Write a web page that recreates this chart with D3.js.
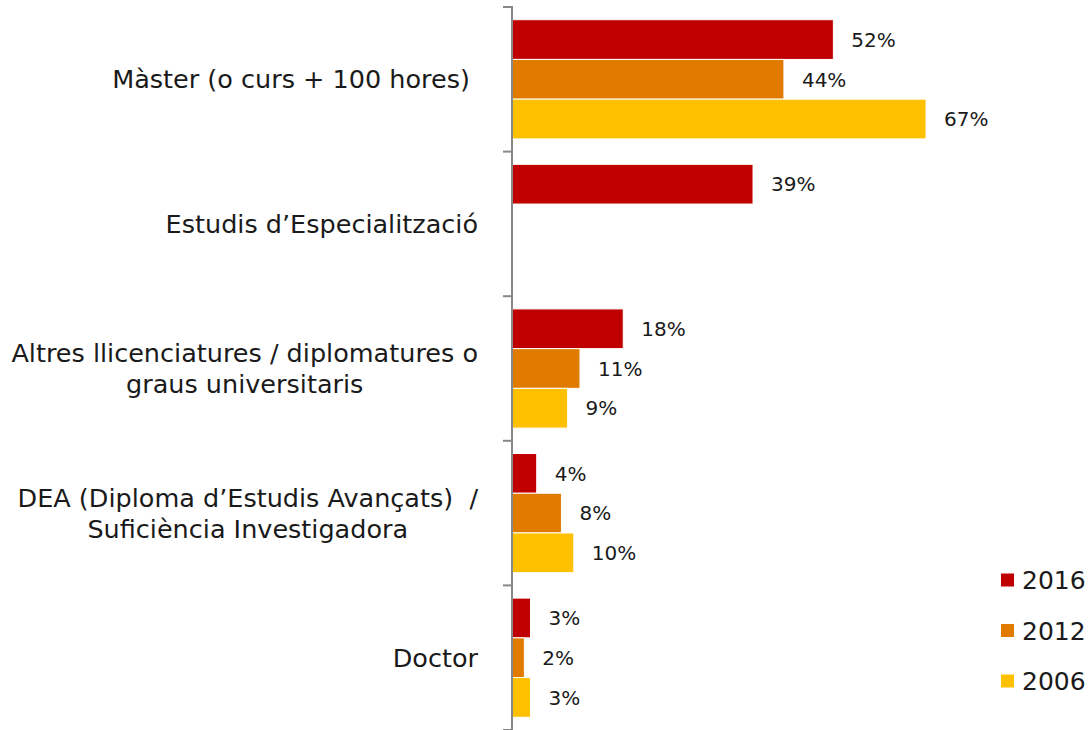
<!DOCTYPE html>
<html><head><meta charset="utf-8">
<script src="https://cdn.jsdelivr.net/npm/d3@7"></script>
<style>
html,body{margin:0;padding:0;background:#fff;}
svg{display:block;}
text{font-family:"DejaVu Sans",sans-serif;fill:#1a1a1a;}
.cat{white-space:pre;}
</style></head>
<body><svg id="chart" width="1091" height="730"></svg>
<script>
const categories = [
  ["Màster (o curs + 100 hores) "],
  ["Estudis d\u2019Especialització"],
  ["Altres llicenciatures / diplomatures o", "graus universitaris"],
  ["DEA (Diploma d\u2019Estudis Avançats)  /", "Suficiència Investigadora"],
  ["Doctor"]
];
const series = ["2016", "2012", "2006"];
const values2016 = [52, 39, 18, 4, 3];
const values2012 = [44, null, 11, 8, 2];
const values2006 = [67, null, 9, 10, 3];
const colors = ["#C00000", "#E07B00", "#FFC000"];

const seriesValues = [values2016, values2012, values2006];
const svg = d3.select("#chart");
const catKeys = categories.map((c, i) => "c" + i);

const y = d3.scaleBand().domain(catKeys).range([7, 730]).paddingInner(0).paddingOuter(0);
const ySub = d3.scaleBand().domain(series).range([0, y.bandwidth()]).paddingInner(0).paddingOuter(0.32);
const x = d3.scaleLinear().domain([0, 70]).range([512, 512 + 70 * 6.18]);

// bars
catKeys.forEach((k, ci) => {
  const g = svg.append("g").attr("transform", `translate(0,${y(k)})`);
  series.forEach((s, si) => {
    const v = seriesValues[si][ci];
    if (v == null) return;
    g.append("rect")
      .attr("x", x(0))
      .attr("y", ySub(s))
      .attr("width", x(v) - x(0))
      .attr("height", ySub.bandwidth())
      .attr("fill", colors[si])
      .attr("stroke", "#fff")
      .attr("stroke-width", 1);
    g.append("text")
      .attr("x", x(v) + 18)
      .attr("y", ySub(s) + ySub.bandwidth() / 2)
      .attr("dy", "0.36em")
      .attr("font-size", 20)
      .text(v + "%");
  });
});

// axis
const axG = svg.append("g").attr("transform", "translate(512,0)");
const bounds = catKeys.map(k => y(k)).concat([y(catKeys[catKeys.length - 1]) + y.bandwidth()]);
axG.selectAll("line.tk").data(bounds).enter().append("line")
  .attr("x1", -9).attr("x2", 0).attr("y1", d => d).attr("y2", d => d)
  .attr("stroke", "#888").attr("stroke-width", 2);
axG.append("line").attr("x1", 0).attr("x2", 0).attr("y1", 6).attr("y2", 730)
  .attr("stroke", "#888").attr("stroke-width", 2);

// category labels
const labelRight = 478;
const lineGap = 31;
categories.forEach((lines, ci) => {
  const cy = y(catKeys[ci]) + y.bandwidth() / 2;
  const t = svg.append("g");
  const texts = lines.map((ln, li) => t.append("text")
    .attr("class", "cat")
    .attr("font-size", 25.5)
    .attr("text-anchor", "middle")
    .attr("dy", "0.36em")
    .attr("y", cy + (li - (lines.length - 1) / 2) * lineGap)
    .text(ln));
  const widths = texts.map(tx => tx.node().getComputedTextLength());
  const maxW = d3.max(widths);
  const center = labelRight - maxW / 2;
  texts.forEach(tx => tx.attr("x", center));
});

// legend
const legY = [580, 630.5, 681];
series.forEach((s, si) => {
  svg.append("rect").attr("x", 1001).attr("y", legY[si] - 6.5).attr("width", 13).attr("height", 13).attr("fill", colors[si]);
  svg.append("text").attr("x", 1022).attr("y", legY[si]).attr("dy", "0.36em").attr("font-size", 25).text(s);
});
</script></body></html>
